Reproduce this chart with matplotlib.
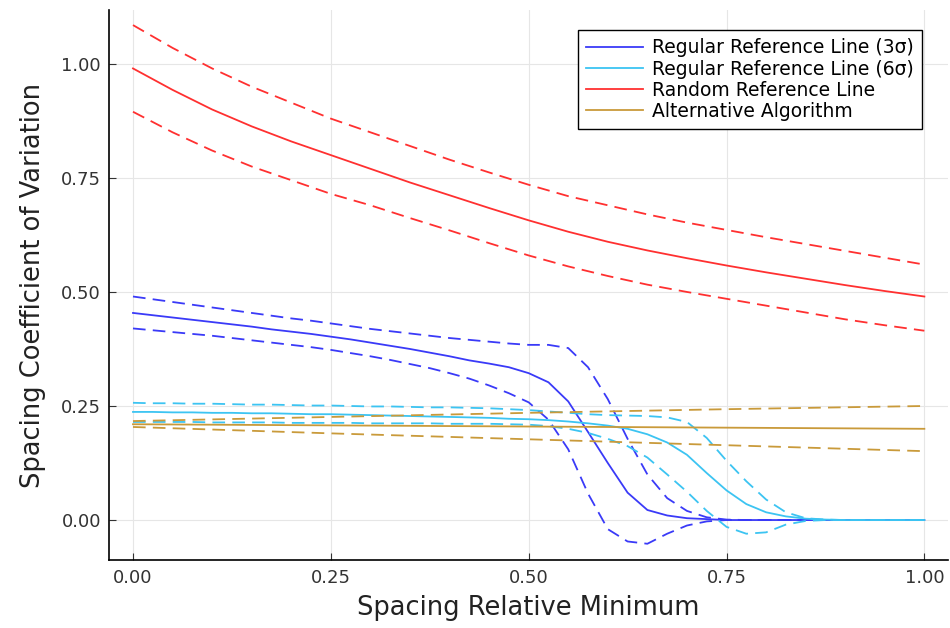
import numpy as np
import matplotlib.pyplot as plt

# x grids
x_red = [i * 0.05 for i in range(21)]
x_fine = [i * 0.025 for i in range(41)]
x_alt = [0.0, 0.25, 0.5, 0.75, 1.0]

# random reference line
red_mean = [0.99, 0.943, 0.90, 0.863, 0.83, 0.80, 0.77, 0.74, 0.712, 0.684, 0.657,
            0.632, 0.61, 0.591, 0.574, 0.558, 0.543, 0.529, 0.515, 0.502, 0.49]
red_hi = [1.085, 1.035, 0.99, 0.95, 0.915, 0.88, 0.85, 0.82, 0.79, 0.762, 0.735,
          0.71, 0.69, 0.67, 0.652, 0.636, 0.62, 0.605, 0.59, 0.575, 0.56]
red_lo = [0.895, 0.85, 0.81, 0.775, 0.745, 0.715, 0.69, 0.662, 0.635, 0.607, 0.58,
          0.556, 0.535, 0.516, 0.50, 0.485, 0.47, 0.455, 0.44, 0.427, 0.415]

# regular reference line (3 sigma)
b3_mean = [0.454, 0.449, 0.444, 0.439, 0.434, 0.429, 0.424, 0.418, 0.413, 0.408,
           0.402, 0.396, 0.389, 0.382, 0.375, 0.367, 0.359, 0.350, 0.343, 0.335,
           0.322, 0.302, 0.260, 0.193, 0.125, 0.060, 0.022, 0.010, 0.004, 0.002,
           0.0, 0.0, 0.0, 0.0, 0.0, 0.0, 0.0, 0.0, 0.0, 0.0, 0.0]
b3_hi = [0.490, 0.484, 0.478, 0.472, 0.466, 0.460, 0.454, 0.448, 0.442, 0.437,
         0.431, 0.425, 0.419, 0.414, 0.409, 0.404, 0.399, 0.395, 0.391, 0.387,
         0.384, 0.384, 0.377, 0.335, 0.265, 0.178, 0.100, 0.048, 0.020, 0.006,
         0.001, 0.0, 0.0, 0.0, 0.0, 0.0, 0.0, 0.0, 0.0, 0.0, 0.0]
b3_lo = [0.420, 0.416, 0.412, 0.408, 0.404, 0.399, 0.394, 0.389, 0.384, 0.379,
         0.373, 0.366, 0.359, 0.351, 0.342, 0.333, 0.322, 0.310, 0.295, 0.278,
         0.258, 0.220, 0.155, 0.058, -0.020, -0.047, -0.052, -0.030, -0.012, -0.003,
         0.0, 0.0, 0.0, 0.0, 0.0, 0.0, 0.0, 0.0, 0.0, 0.0, 0.0]

# regular reference line (6 sigma)
b6_mean = [0.237, 0.237, 0.236, 0.236, 0.235, 0.235, 0.234, 0.234, 0.233, 0.232,
           0.232, 0.231, 0.230, 0.229, 0.228, 0.227, 0.226, 0.225, 0.224, 0.222,
           0.221, 0.219, 0.216, 0.212, 0.207, 0.200, 0.188, 0.170, 0.143, 0.103,
           0.065, 0.035, 0.017, 0.008, 0.003, 0.001, 0.0, 0.0, 0.0, 0.0, 0.0]
b6_hi = [0.257, 0.256, 0.256, 0.255, 0.255, 0.254, 0.253, 0.253, 0.252, 0.251,
         0.251, 0.250, 0.249, 0.249, 0.248, 0.247, 0.247, 0.246, 0.245, 0.243,
         0.241, 0.238, 0.235, 0.232, 0.230, 0.229, 0.228, 0.225, 0.215, 0.180,
         0.130, 0.085, 0.045, 0.017, 0.004, 0.001, 0.0, 0.0, 0.0, 0.0, 0.0]
b6_lo = [0.215, 0.215, 0.215, 0.215, 0.214, 0.214, 0.214, 0.214, 0.213, 0.213,
         0.213, 0.213, 0.212, 0.212, 0.212, 0.212, 0.211, 0.211, 0.211, 0.210,
         0.209, 0.206, 0.200, 0.191, 0.178, 0.162, 0.137, 0.100, 0.062, 0.020,
         -0.015, -0.030, -0.027, -0.010, -0.002, 0.0, 0.0, 0.0, 0.0, 0.0, 0.0]

# alternative algorithm
alt_mean = [0.210, 0.2075, 0.205, 0.2025, 0.200]
alt_hi = [0.217, 0.226, 0.235, 0.243, 0.250]
alt_lo = [0.204, 0.190, 0.177, 0.164, 0.151]

c_blue = "#3a3af8"
c_cyan = "#3cc4f2"
c_red = "#ff3030"
c_alt = "#c99a3a"
dash = (7, 4)
lw = 1.3

fig = plt.figure(figsize=(9.5, 6.28), dpi=100)
ax = fig.add_axes([0.115, 0.108, 0.883, 0.876])

series = [
    (x_fine, b3_mean, b3_hi, b3_lo, c_blue, "Regular Reference Line (3σ)"),
    (x_fine, b6_mean, b6_hi, b6_lo, c_cyan, "Regular Reference Line (6σ)"),
    (x_red, red_mean, red_hi, red_lo, c_red, "Random Reference Line"),
    (x_alt, alt_mean, alt_hi, alt_lo, c_alt, "Alternative Algorithm"),
]
for xs, m, hi, lo, c, lab in series:
    ax.plot(xs, m, color=c, lw=lw, label=lab)
    ax.plot(xs, hi, color=c, lw=lw, dashes=dash)
    ax.plot(xs, lo, color=c, lw=lw, dashes=dash)

ax.set_xlim(-0.03, 1.03)
ax.set_ylim(-0.088, 1.118)
ax.set_xticks([0, 0.25, 0.5, 0.75, 1.0])
ax.set_yticks([0, 0.25, 0.5, 0.75, 1.0])
ax.set_xticklabels(["0.00", "0.25", "0.50", "0.75", "1.00"])
ax.set_yticklabels(["0.00", "0.25", "0.50", "0.75", "1.00"])
ax.grid(True, color="#e6e6e6", lw=0.8)
ax.set_axisbelow(True)
ax.spines["top"].set_visible(False)
ax.spines["right"].set_visible(False)
ax.spines["left"].set_linewidth(1.2)
ax.spines["bottom"].set_linewidth(1.2)
ax.tick_params(direction="in", length=5, labelsize=13, colors="#333333",
               labelcolor="#333333", pad=6)
ax.set_xlabel("Spacing Relative Minimum", fontsize=18.5, color="#222222", labelpad=6)
ax.set_ylabel("Spacing Coefficient of Variation", fontsize=18.5, color="#222222",
              labelpad=11)

leg = ax.legend(loc="upper right", bbox_to_anchor=(0.969, 0.964), fontsize=13.5,
                fancybox=False, edgecolor="black", framealpha=1,
                handlelength=3.0, handletextpad=0.5, borderpad=0.45,
                labelspacing=0.12, borderaxespad=0.0)
leg.get_frame().set_linewidth(1.0)

fig.savefig("out.png", dpi=100)
